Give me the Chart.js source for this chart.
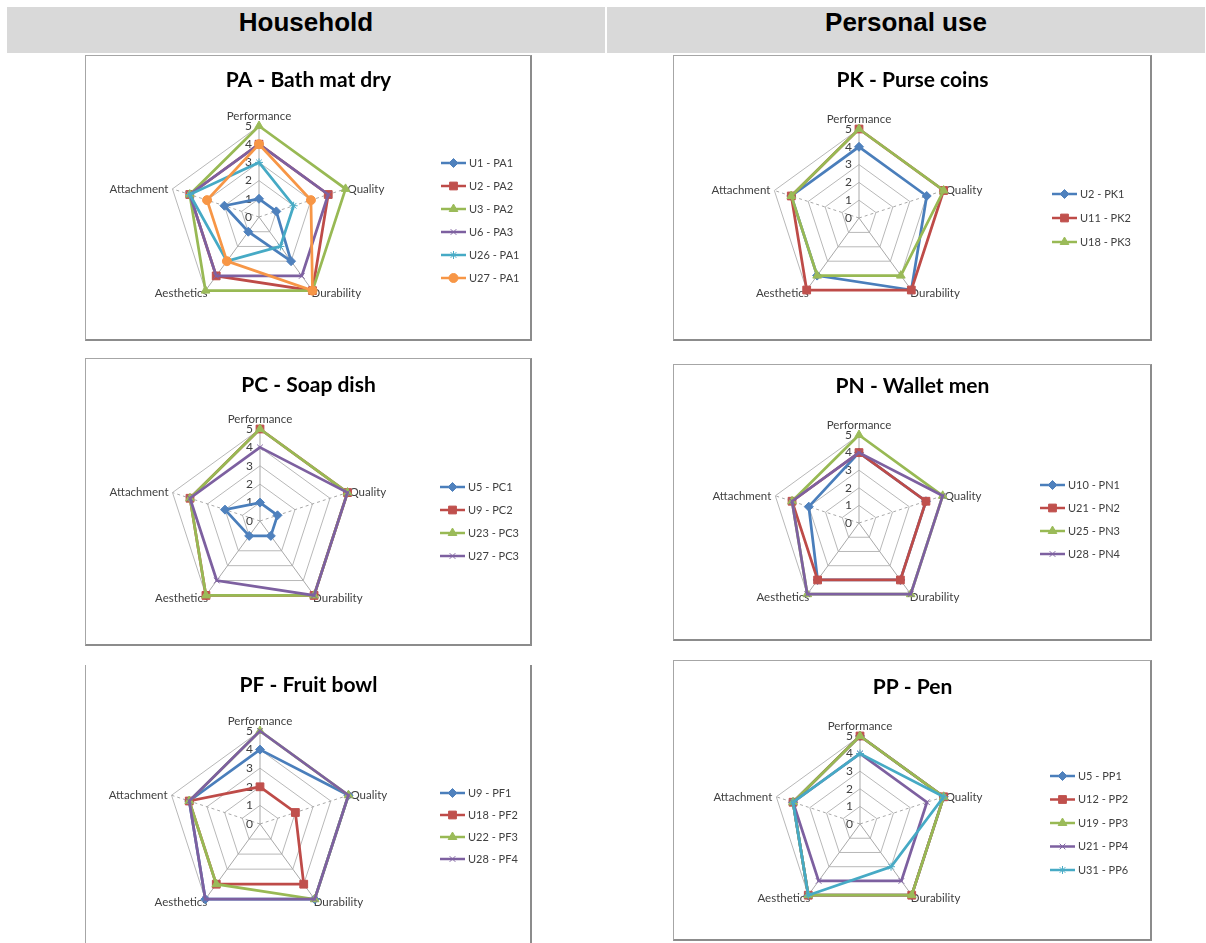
<!DOCTYPE html>
<html>
<head>
<meta charset="utf-8">
<title>Product attachment radar charts</title>
<script src="https://cdn.jsdelivr.net/npm/chart.js@4.4.0/dist/chart.umd.min.js"></script>
<style>
  body {
    margin: 0;
    width: 1206px;
    height: 943px;
    background: #fff;
    position: relative;
    overflow: hidden;
    font-family: "Liberation Sans", Arial, sans-serif;
  }
  .head {
    position: absolute;
    top: 7px;
    height: 46px;
    background: #d9d9d9;
    font-weight: bold;
    font-size: 26px;
    text-align: center;
    line-height: 31px;
    color: #000;
  }
  .box {
    position: absolute;
    box-sizing: border-box;
    border: 1px solid #a6a6a6;
    border-right: 2px solid #8c8c8c;
    border-bottom: 2px solid #8c8c8c;
  }
  canvas {
    position: absolute;
  }
</style>
</head>
<body>
<div class="head" style="left:7px;width:598px">Household</div>
<div class="head" style="left:607px;width:598px">Personal use</div>
<div id="charts"></div>

<script>
// axis categories and scale ticks, shared by all six charts
const axisLabels = ["Performance", "Quality", "Durability", "Aesthetics", "Attachment"];
const tickLabels = ["0", "1", "2", "3", "4", "5"];

// scores per user, in axis order
const paNames = ["U1 - PA1", "U2 - PA2", "U3 - PA2", "U6 - PA3", "U26 - PA1", "U27 - PA1"];
const paScores = [
  [1, 1, 3, 1, 2],
  [4, 4, 5, 4, 4],
  [5, 5, 5, 5, 4],
  [4, 4, 4, 4, 4],
  [3, 2, 2, 3, 4],
  [4, 3, 5, 3, 3],
];

const pkNames = ["U2 - PK1", "U11 - PK2", "U18 - PK3"];
const pkScores = [
  [4, 4, 5, 4, 4],
  [5, 5, 5, 5, 4],
  [5, 5, 4, 4, 4],
];

const pcNames = ["U5 - PC1", "U9 - PC2", "U23 - PC3", "U27 - PC3"];
const pcScores = [
  [1, 1, 1, 1, 2],
  [5, 5, 5, 5, 4],
  [5, 5, 5, 5, 4],
  [4, 5, 5, 4, 4],
];

const pnNames = ["U10 - PN1", "U21 - PN2", "U25 - PN3", "U28 - PN4"];
const pnScores = [
  [4, 4, 4, 4, 3],
  [4, 4, 4, 4, 4],
  [5, 5, 5, 5, 4],
  [4, 5, 5, 5, 4],
];

const pfNames = ["U9 - PF1", "U18 - PF2", "U22 - PF3", "U28 - PF4"];
const pfScores = [
  [4, 5, 5, 5, 4],
  [2, 2, 4, 4, 4],
  [5, 5, 5, 4, 4],
  [5, 5, 5, 5, 4],
];

const ppNames = ["U5 - PP1", "U12 - PP2", "U19 - PP3", "U21 - PP4", "U31 - PP6"];
const ppScores = [
  [5, 5, 5, 5, 4],
  [5, 5, 5, 5, 4],
  [5, 5, 5, 5, 4],
  [4, 4, 4, 4, 4],
  [4, 5, 3, 5, 4],
];

// Excel 2007 default series look
const lineColors = ["#4A7EBB", "#BE4B48", "#98B954", "#7D60A0", "#46AAC5", "#F79646"];
const markerColors = ["#4F81BD", "#C0504D", "#9BBB59", "#8064A2", "#4BACC6", "#F79646"];
const markerStyles = ["rectRot", "rect", "triangle", "crossRot", "star", "circle"];
const markerSizes = [4.5, 5.5, 5, 4, 4, 4.5];

// box = [left, top, width, height] in page pixels
const panels = [
  { title: "PA - Bath mat dry", names: paNames, scores: paScores, box: [85, 55, 447, 286], center: [259, 217], r: 91, titleY: 80, legend: [441, 163, 23] },
  { title: "PK - Purse coins", names: pkNames, scores: pkScores, box: [673, 55, 479, 286], center: [859, 218], r: 89, titleY: 80, legend: [1052, 194, 24] },
  { title: "PC - Soap dish", names: pcNames, scores: pcScores, box: [85, 358, 447, 288], center: [260, 521], r: 92, titleY: 385, legend: [440, 487, 23] },
  { title: "PN - Wallet men", names: pnNames, scores: pnScores, box: [673, 364, 479, 277], center: [859, 523], r: 88, titleY: 386, legend: [1040, 485, 23] },
  { title: "PF - Fruit bowl", names: pfNames, scores: pfScores, box: [85, 665, 447, 300], center: [260, 824], r: 93, titleY: 685, legend: [440, 793, 22], noTop: true },
  { title: "PP - Pen", names: ppNames, scores: ppScores, box: [673, 660, 479, 281], center: [860, 824], r: 88, titleY: 687, legend: [1050, 776, 23.5] },
];

// axis names, tick numbers, title and the Excel-style legend
const radarText = {
  id: "radarText",
  beforeDatasetsDraw(chart, args, opts) {
    const scale = chart.scales.r;
    const ctx = chart.ctx;
    ctx.save();
    ctx.fillStyle = "#404040";
    ctx.font = "11.5px Lato";
    axisLabels.forEach((label, i) => {
      const p = scale.getPointPosition(i, scale.drawingArea);
      if (i === 0) {
        ctx.textAlign = "center";
        ctx.textBaseline = "bottom";
        ctx.fillText(label, p.x, p.y - 4);
      } else if (i === 1) {
        ctx.textAlign = "left";
        ctx.textBaseline = "middle";
        ctx.fillText(label, p.x + 2, p.y);
      } else if (i === 2) {
        ctx.textAlign = "left";
        ctx.textBaseline = "middle";
        ctx.fillText(label, p.x - 1, p.y + 3);
      } else if (i === 3) {
        ctx.textAlign = "right";
        ctx.textBaseline = "middle";
        ctx.fillText(label, p.x + 2, p.y + 3);
      } else {
        ctx.textAlign = "right";
        ctx.textBaseline = "middle";
        ctx.fillText(label, p.x - 4, p.y);
      }
    });

    ctx.font = "12px Lato";
    ctx.textAlign = "right";
    ctx.textBaseline = "middle";
    tickLabels.forEach((t, i) => {
      const y = scale.yCenter - scale.getDistanceFromCenterForValue(i);
      ctx.fillText(t, scale.xCenter - 7, y);
    });
    ctx.restore();
  },
  afterDraw(chart, args, opts) {
    const ctx = chart.ctx;
    ctx.save();
    ctx.fillStyle = "#000";
    ctx.font = "bold 21px Lato";
    ctx.textAlign = "center";
    ctx.textBaseline = "middle";
    ctx.fillText(opts.title, chart.width / 2, opts.titleY);

    const [lx, ly, dy] = opts.legend;
    ctx.font = "11px Lato";
    ctx.textAlign = "left";
    chart.data.datasets.forEach((ds, j) => {
      const y = ly + j * dy;
      ctx.strokeStyle = ds.borderColor;
      ctx.lineWidth = 2.5;
      ctx.beginPath();
      ctx.moveTo(lx, y);
      ctx.lineTo(lx + 25, y);
      ctx.stroke();
      ctx.fillStyle = ds.pointBackgroundColor;
      ctx.strokeStyle = ds.pointBorderColor;
      ctx.lineWidth = 1;
      Chart.helpers.drawPoint(ctx, { pointStyle: ds.pointStyle, radius: ds.pointRadius, borderWidth: 1 }, lx + 12.5, y);
      ctx.fillStyle = "#404040";
      ctx.fillText(ds.label, lx + 28, y);
    });
    ctx.restore();
  },
};

const holder = document.getElementById("charts");

panels.forEach((p) => {
  const [bx, by, bw, bh] = p.box;
  const box = document.createElement("div");
  box.className = "box";
  box.style.left = bx + "px";
  box.style.top = by + "px";
  box.style.width = bw + "px";
  box.style.height = bh + "px";
  if (p.noTop) box.style.borderTop = "none";
  holder.appendChild(box);

  const canvas = document.createElement("canvas");
  canvas.width = bw;
  canvas.height = bh;
  canvas.style.left = bx + "px";
  canvas.style.top = by + "px";
  holder.appendChild(canvas);

  const cx = p.center[0] - bx;
  const cy = p.center[1] - by;
  const n = p.names.length;

  const datasets = p.names.map((name, j) => ({
    label: name,
    data: p.scores[j],
    order: n - j,
    fill: false,
    borderColor: lineColors[j],
    borderWidth: 2.75,
    backgroundColor: markerColors[j],
    pointStyle: markerStyles[j],
    pointRadius: markerSizes[j],
    pointBackgroundColor: markerColors[j],
    pointBorderColor: markerColors[j],
    pointBorderWidth: 1,
  }));

  new Chart(canvas.getContext("2d"), {
    type: "radar",
    data: { labels: axisLabels, datasets: datasets },
    plugins: [radarText],
    options: {
      responsive: false,
      animation: false,
      layout: {
        padding: {
          left: cx - p.r,
          right: bw - cx - p.r,
          top: cy - p.r,
          bottom: bh - cy - p.r,
        },
      },
      plugins: {
        legend: { display: false },
        tooltip: { enabled: false },
        title: { display: false },
        radarText: { title: p.title, titleY: p.titleY - by, legend: [p.legend[0] - bx, p.legend[1] - by, p.legend[2]] },
      },
      scales: {
        r: {
          min: 0,
          max: 5,
          ticks: { display: false, stepSize: 1 },
          pointLabels: { display: false },
          grid: { color: "#b8b8b8", lineWidth: 1 },
          angleLines: {
            color: "#a8a8a8",
            lineWidth: 1,
            borderDash: (ctx) => (ctx.index === 1 || ctx.index === 4 ? [3, 3] : []),
          },
        },
      },
    },
  });
});
</script>
</body>
</html>
